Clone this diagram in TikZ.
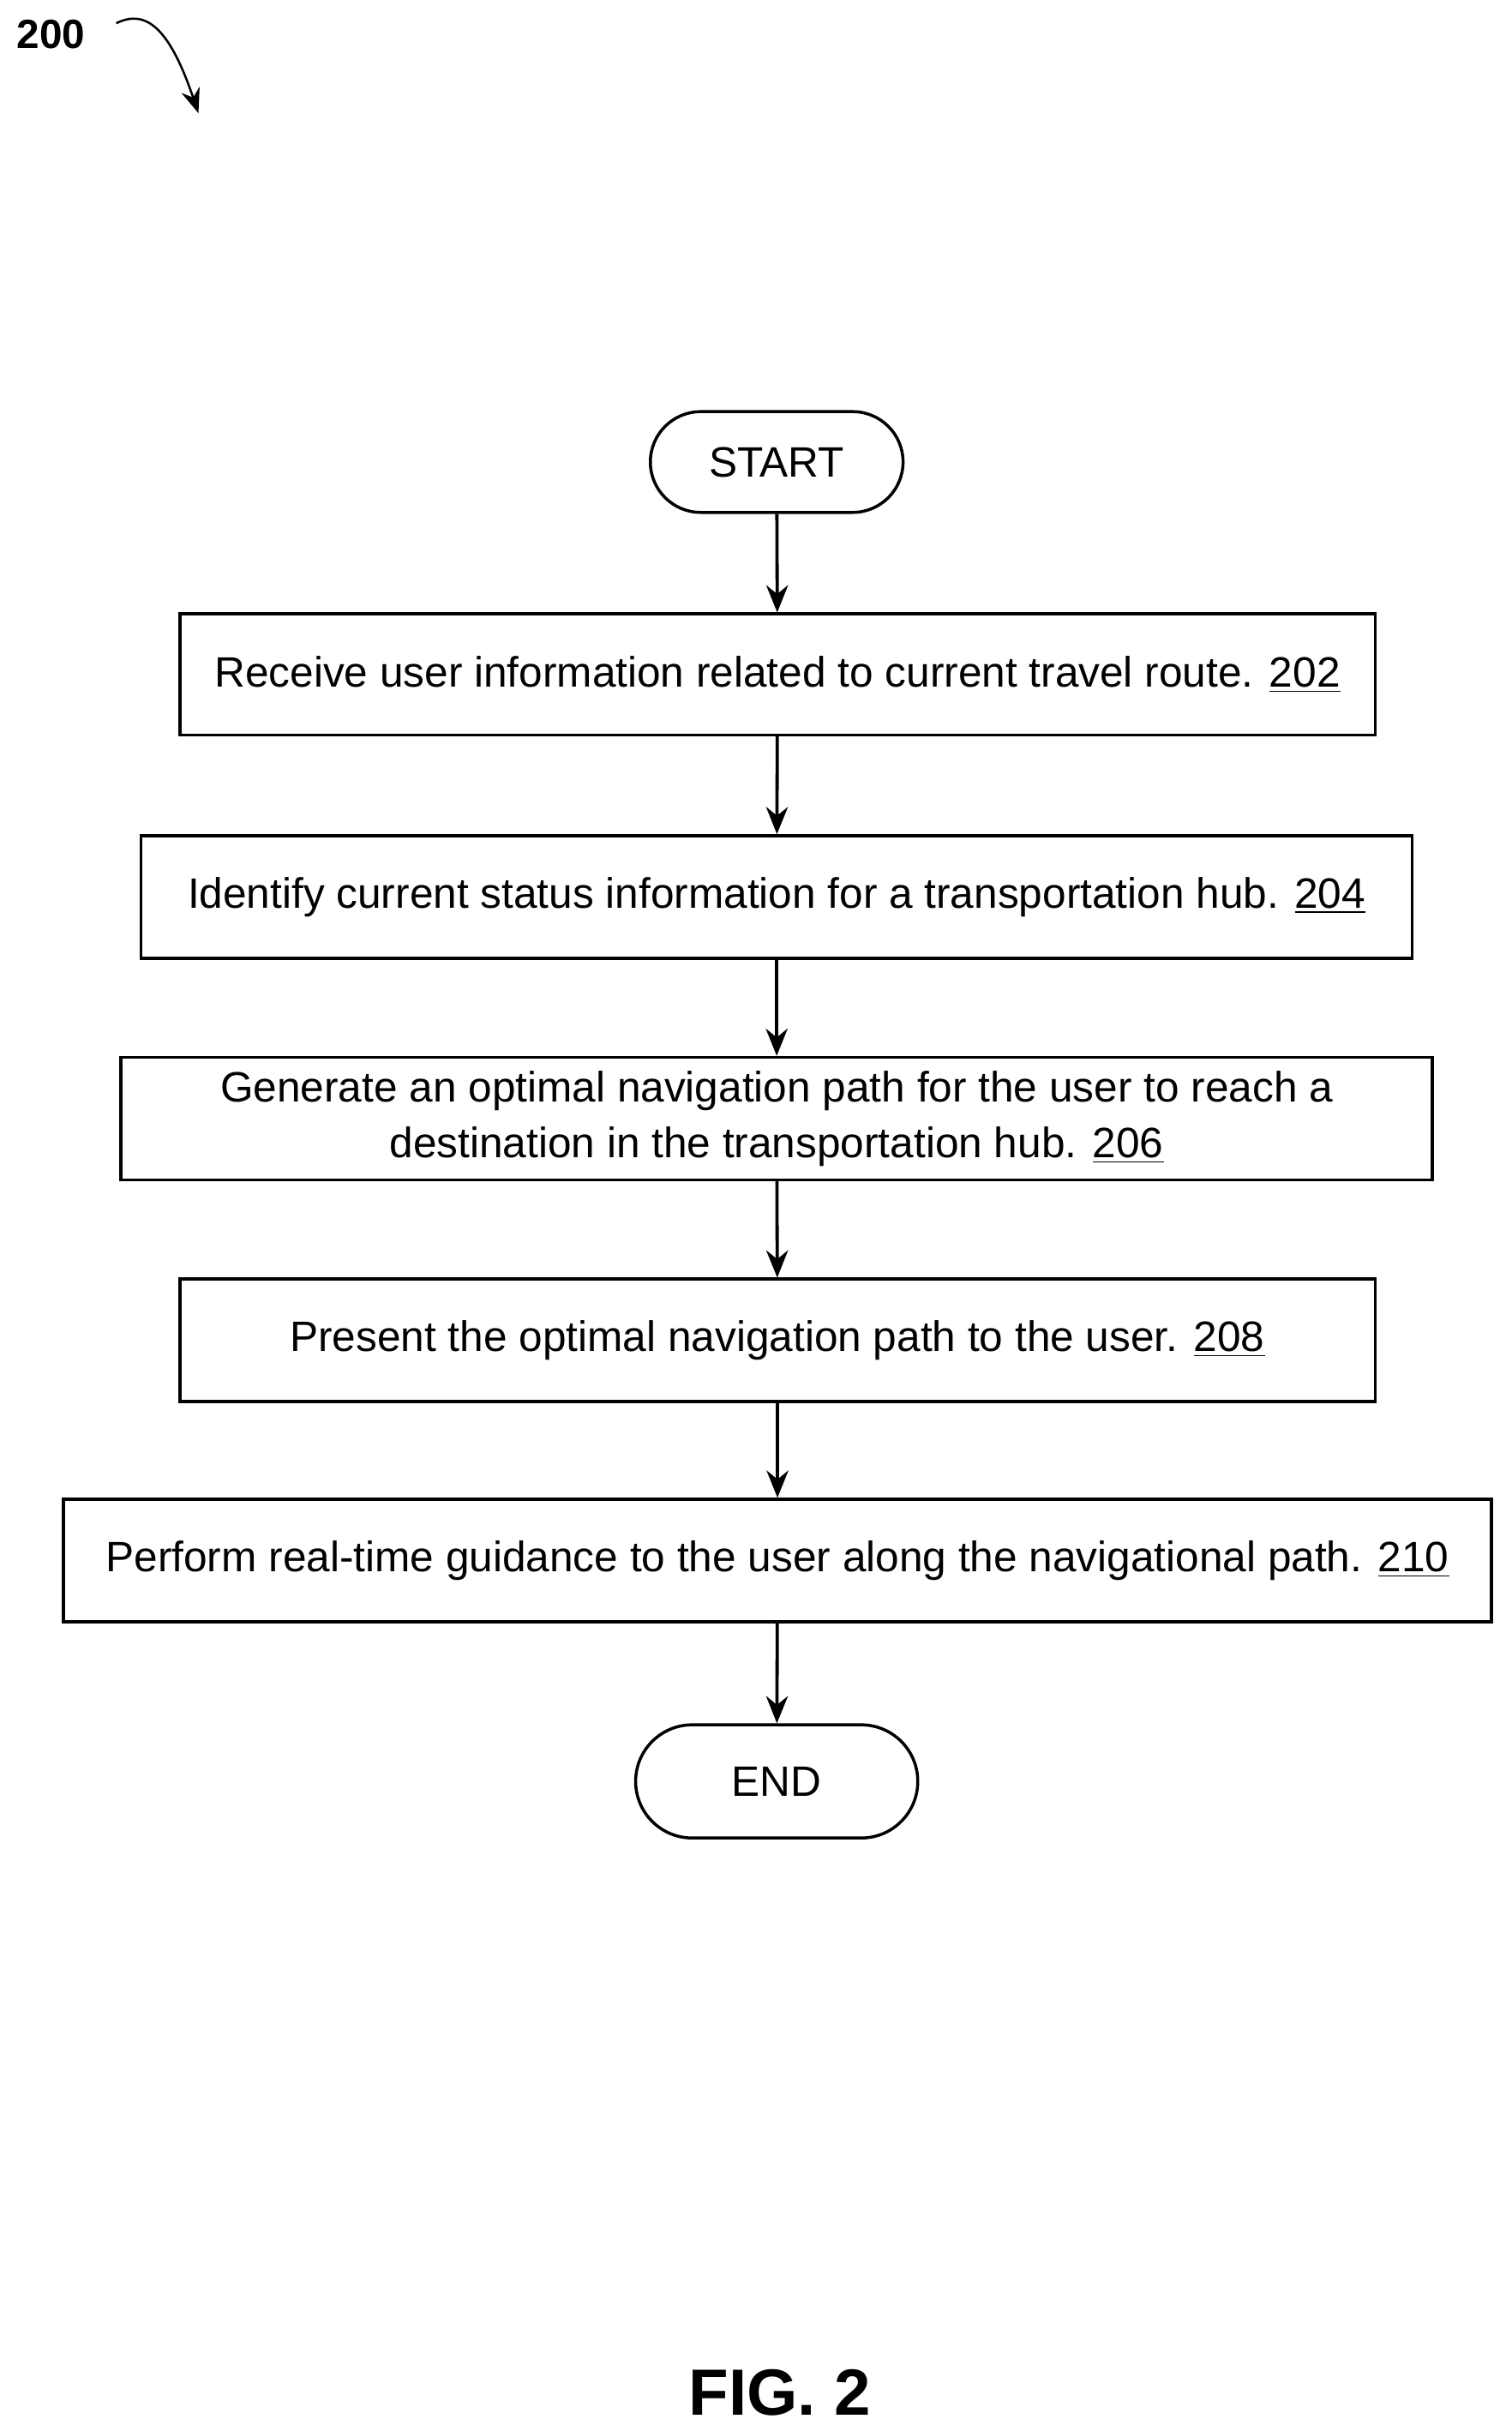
\documentclass[tikz,border=0pt]{standalone}
\usepackage{fontspec}
\setmainfont{Liberation Sans}
\usetikzlibrary{arrows.meta}
\begin{document}
\begin{tikzpicture}[x=0.02cm,y=-0.02cm,
  box/.style={draw,line width=1.1pt,inner sep=0pt,align=center,font=\fontsize{15.6}{20.5}\selectfont},
  term/.style={box,rounded corners=0.65cm},
  arr/.style={line width=1.2pt,-{Stealth[length=10pt,width=8pt]}}]
\useasboundingbox (0,0) rectangle (975,1568);
\node[font=\bfseries\fontsize{15}{18}\selectfont] (lab) at (33,22) {200};
\coordinate (labend) at (128,73);
\draw[line width=0.8pt,-{Stealth[length=9pt,width=7pt]}] (75,15) .. controls (95,5) and (110,20) .. (labend);
\node[term,minimum width=163*0.02cm,minimum height=65*0.02cm] (s) at (501,298) {START};
\node[box,minimum width=771*0.02cm,minimum height=78*0.02cm] (b1) at (501.5,435) {Receive user information related to current travel route. \underline{202}};
\node[box,minimum width=820*0.02cm,minimum height=79*0.02cm] (b2) at (501,578.5) {Identify current status information for a transportation hub. \underline{204}};
\node[box,minimum width=846*0.02cm,minimum height=79*0.02cm] (b3) at (501,721.5) {Generate an optimal navigation path for the user to reach a\\destination in the transportation hub. \underline{206}};
\node[box,minimum width=771*0.02cm,minimum height=79*0.02cm] (b4) at (501.5,864.5) {Present the optimal navigation path to the user. \underline{208}};
\node[box,minimum width=921*0.02cm,minimum height=79*0.02cm] (b5) at (501.5,1006.5) {Perform real-time guidance to the user along the navigational path. \underline{210}};
\node[term,minimum width=182*0.02cm,minimum height=73*0.02cm,rounded corners=0.73cm] (e) at (501,1149) {END};
\draw[arr] (s) -- (b1);
\draw[arr] (b1) -- (b2);
\draw[arr] (b2) -- (b3);
\draw[arr] (b3) -- (b4);
\draw[arr] (b4) -- (b5);
\draw[arr] (b5) -- (e);
\node[font=\bfseries\fontsize{24}{29}\selectfont] (fig) at (503,1543) {FIG. 2};
\end{tikzpicture}
\end{document}
